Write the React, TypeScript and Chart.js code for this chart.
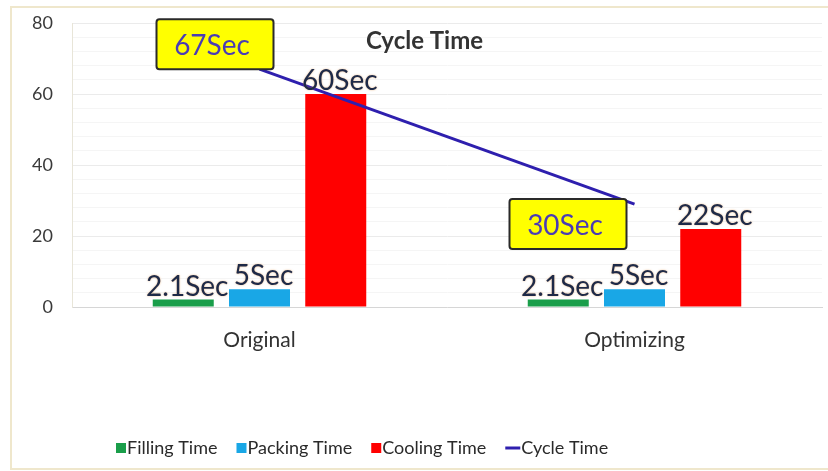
import React, { useEffect, useRef } from 'react';
import { Chart, registerables } from 'chart.js';

Chart.register(...registerables);

const categories = ['Original', 'Optimizing'];
const fillingTime = [2.1, 2.1];
const packingTime = [5, 5];
const coolingTime = [60, 22];
const cycleTime = [67, 29];
const fillingLabels = ['2.1Sec', '2.1Sec'];
const packingLabels = ['5Sec', '5Sec'];
const coolingLabels = ['60Sec', '22Sec'];
const cycleLabels = ['67Sec', '30Sec'];
const seriesNames = ['Filling Time', 'Packing Time', 'Cooling Time', 'Cycle Time'];
const chartTitle = 'Cycle Time';
const yMin = 0;
const yMax = 80;
const yMajorStep = 20;
const yMinorStep = 4;

const FONT = 'Lato, "Open Sans", sans-serif';
const COLORS = ['#1a9e4a', '#19a7e6', '#ff0000', '#2e1fae'];

const overlayPlugin = {
  id: 'overlay',
  afterDatasetsDraw(chart: any) {
    const ctx = chart.ctx;
    const area = chart.chartArea;
    ctx.save();
    // bar value labels
    const barLabels = [fillingLabels, packingLabels, coolingLabels];
    ctx.font = `28px ${FONT}`;
    ctx.textAlign = 'center';
    ctx.textBaseline = 'alphabetic';
    barLabels.forEach((labels, di) => {
      const meta = chart.getDatasetMeta(di);
      meta.data.forEach((el: any, i: number) => {
        ctx.save();
        ctx.shadowColor = 'rgba(220,130,40,0.55)';
        ctx.shadowBlur = 2;
        ctx.fillStyle = '#1e2a48';
        ctx.fillText(labels[i], el.x + 4, el.y - 4);
        ctx.restore();
      });
    });

    // cycle time callouts
    const lineMeta = chart.getDatasetMeta(3);
    lineMeta.data.forEach((pt: any, i: number) => {
      const w = 117;
      const h = 50;
      let bx: number, by: number;
      if (i === 0) {
        bx = pt.x + 14 - w;
        by = pt.y - h;
      } else {
        bx = pt.x - 8 - w;
        by = pt.y - 5;
      }
      ctx.save();
      ctx.beginPath();
      const r = 3;
      ctx.moveTo(bx + r, by);
      ctx.lineTo(bx + w - r, by);
      ctx.quadraticCurveTo(bx + w, by, bx + w, by + r);
      ctx.lineTo(bx + w, by + h - r);
      ctx.quadraticCurveTo(bx + w, by + h, bx + w - r, by + h);
      ctx.lineTo(bx + r, by + h);
      ctx.quadraticCurveTo(bx, by + h, bx, by + h - r);
      ctx.lineTo(bx, by + r);
      ctx.quadraticCurveTo(bx, by, bx + r, by);
      ctx.closePath();
      ctx.fillStyle = '#ffff00';
      ctx.fill();
      ctx.lineWidth = 2;
      ctx.strokeStyle = '#2a2a2a';
      ctx.stroke();
      ctx.font = `28px ${FONT}`;
      ctx.fillStyle = '#4a3cb5';
      ctx.textAlign = 'center';
      ctx.textBaseline = 'middle';
      ctx.fillText(cycleLabels[i], bx + w / 2 - 3, by + h / 2 + 2);
      ctx.restore();
    });

    // title
    ctx.font = `bold 24px ${FONT}`;
    ctx.fillStyle = '#333333';
    ctx.textAlign = 'center';
    ctx.textBaseline = 'middle';
    ctx.fillText(chartTitle, area.left + (area.right - area.left) * 0.47, 41);

    // legend
    ctx.font = `18px ${FONT}`;
    ctx.textBaseline = 'middle';
    ctx.textAlign = 'left';
    let x = 116;
    const cy = 448;
    seriesNames.forEach((name, i) => {
      if (i < 3) {
        ctx.fillStyle = COLORS[i];
        ctx.fillRect(x, cy - 5, 10, 10);
        x += 11;
      } else {
        ctx.strokeStyle = COLORS[i];
        ctx.lineWidth = 3;
        ctx.beginPath();
        ctx.moveTo(x, cy);
        ctx.lineTo(x + 15, cy);
        ctx.stroke();
        x += 16;
      }
      ctx.fillStyle = '#2a2a2a';
      ctx.fillText(name, x, cy);
      x += ctx.measureText(name).width + 19;
    });
    ctx.restore();
  },
};

export default function App() {
  const canvasRef = useRef<HTMLCanvasElement | null>(null);

  useEffect(() => {
    if (!canvasRef.current) return;
    const chart = new Chart(canvasRef.current, {
      type: 'bar',
      data: {
        labels: categories,
        datasets: [
          { label: seriesNames[0], data: fillingTime, backgroundColor: COLORS[0], order: 1 },
          { label: seriesNames[1], data: packingTime, backgroundColor: COLORS[1], order: 1 },
          { label: seriesNames[2], data: coolingTime, backgroundColor: COLORS[2], order: 1 },
          {
            type: 'line',
            label: seriesNames[3],
            data: cycleTime,
            borderColor: COLORS[3],
            backgroundColor: COLORS[3],
            borderWidth: 3,
            pointRadius: 0,
            order: 0,
          } as any,
        ],
      },
      options: {
        responsive: false,
        animation: false,
        events: [],
        layout: { padding: { left: 0, right: 6, top: 23, bottom: 0 } },
        datasets: {
          bar: { categoryPercentage: 0.61, barPercentage: 0.8 },
        } as any,
        plugins: {
          legend: { display: false },
          tooltip: { enabled: false },
          title: { display: false },
        },
        scales: {
          x: {
            grid: { display: false, drawTicks: false },
            border: { display: true, color: '#d6d6d6', width: 1 },
            ticks: {
              padding: 21,
              color: '#333333',
              font: { family: FONT, size: 21 },
            },
            afterFit(scale: any) {
              scale.height = 164;
              scale.paddingLeft = 0;
              scale.paddingRight = 0;
            },
          },
          y: {
            min: yMin,
            max: yMax,
            grid: {
              drawTicks: false,
              color: (c: any) => (c.tick && c.tick.value % yMajorStep === 0 ? '#ebebeb' : '#f5f5f5'),
            },
            border: { display: true, color: '#e8e5d8', width: 1 },
            ticks: {
              stepSize: yMinorStep,
              autoSkip: false,
              padding: 19,
              color: '#3a3a3a',
              font: { family: FONT, size: 18 },
              callback: (v: any) => (Number(v) % yMajorStep === 0 ? String(v) : ''),
            },
            afterFit(scale: any) {
              scale.width = 72;
              scale.paddingTop = 0;
              scale.paddingBottom = 0;
            },
          },
        },
      },
      plugins: [overlayPlugin],
    });
    return () => chart.destroy();
  }, []);

  return (
    <div
      style={{
        position: 'fixed',
        left: 0,
        top: 0,
        width: 828,
        height: 471,
        background: '#ffffff',
        overflow: 'hidden',
      }}
    >
      <div
        style={{
          position: 'absolute',
          left: 10,
          top: 6,
          width: 840,
          height: 460,
          borderLeft: '2px solid #efe7cc',
          borderTop: '2px solid #efe7cc',
          borderBottom: '2px solid #efe7cc',
        }}
      />
      <canvas
        ref={canvasRef}
        width={828}
        height={471}
        style={{ position: 'absolute', left: 0, top: 0, width: 828, height: 471 }}
      />
    </div>
  );
}
